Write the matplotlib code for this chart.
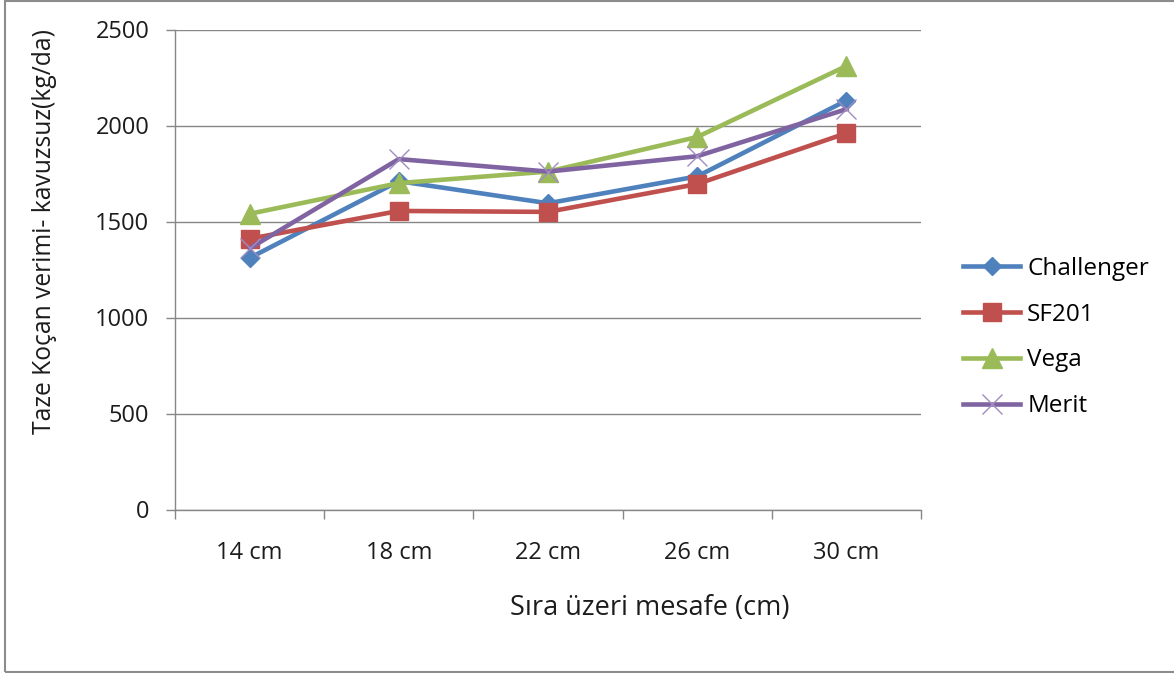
import matplotlib
matplotlib.use("Agg")
import matplotlib.pyplot as plt
from matplotlib.patches import Rectangle
import numpy as np

plt.rcParams['font.family'] = ['Open Sans', 'DejaVu Sans']

categories = ["14 cm", "18 cm", "22 cm", "26 cm", "30 cm"]
challenger = [1310, 1710, 1595, 1735, 2130]
sf201 = [1410, 1555, 1550, 1695, 1960]
vega = [1540, 1700, 1760, 1940, 2310]
merit = [1360, 1825, 1760, 1840, 2085]

y_ticks = [0, 500, 1000, 1500, 2000, 2500]
x_title = "Sıra üzeri mesafe (cm)"
y_title = "Taze Koçan verimi- kavuzsuz(kg/da)"

FS_TICK = 17
FS_LEG = 17.5
FS_YT = 17.7
FS_XT = 19.5
GRID = "#878787"
TXT = "#1c1c1c"

fig = plt.figure(figsize=(11.74, 6.73), dpi=100)
fig.patch.set_facecolor("white")

# outer chart frame
fig.add_artist(Rectangle((5 / 1174, 1 - 672 / 673), 1.2, 671 / 673,
                         transform=fig.transFigure, fill=False,
                         edgecolor="#8c8c8c", linewidth=1.5))

ax = fig.add_axes([175 / 1174, 1 - 509.5 / 673, 746 / 1174, 480 / 673])
x = np.arange(len(categories))

series = [
    ("Challenger", challenger, "#4F81BD", "D", 9),
    ("SF201", sf201, "#C0504D", "s", 13.5),
    ("Vega", vega, "#9BBB59", "^", 14),
    ("Merit", merit, "#8064A2", "x", 14),
]
for name, vals, col, mk, ms in series:
    if mk == "x":
        ax.plot(x, vals, color=col, linewidth=3.3, marker=mk, markersize=ms,
                markeredgecolor="#a08cc0", markeredgewidth=1.0, label=name,
                zorder=3)
    else:
        ax.plot(x, vals, color=col, linewidth=3.3, marker=mk, markersize=ms,
                markeredgecolor=col, markerfacecolor=col, label=name, zorder=3)

ax.set_xlim(-0.5, len(categories) - 0.5)
ax.set_ylim(0, 2500)
ax.set_yticks(y_ticks)
ax.set_yticklabels([str(v) for v in y_ticks], fontsize=FS_TICK, color=TXT)
ax.set_xticks(x)
ax.set_xticklabels(categories, fontsize=FS_TICK, color=TXT)
ax.set_xticks(np.arange(-0.5, len(categories)), minor=True)
ax.tick_params(axis="x", which="major", length=0, pad=23)
ax.tick_params(axis="x", which="minor", length=6.5, width=1, color=GRID,
               direction="out")
ax.tick_params(axis="y", which="major", length=6.5, width=1, color=GRID,
               direction="out", pad=12)

ax.grid(axis="y", color=GRID, linewidth=1)
ax.set_axisbelow(True)
for side in ("top", "right"):
    ax.spines[side].set_visible(False)
for side in ("left", "bottom"):
    ax.spines[side].set_color(GRID)
    ax.spines[side].set_linewidth(1)
ax.spines["left"].set_bounds(0, 2500)

fig.text(650 / 1174, 1 - 608 / 673, x_title, fontsize=FS_XT, color=TXT,
         ha="center", va="center")
fig.text(45 / 1174, 1 - 232 / 673, y_title, fontsize=FS_YT, color=TXT,
         ha="center", va="center", rotation=90)

fig.legend(loc="center left", bbox_to_anchor=(963 / 1174, 1 - 337.5 / 673),
           frameon=False, fontsize=FS_LEG, handlelength=2.35,
           handletextpad=0.29, labelspacing=0.9, numpoints=1, borderpad=0,
           borderaxespad=0)

fig.savefig("out.png", dpi=100)
